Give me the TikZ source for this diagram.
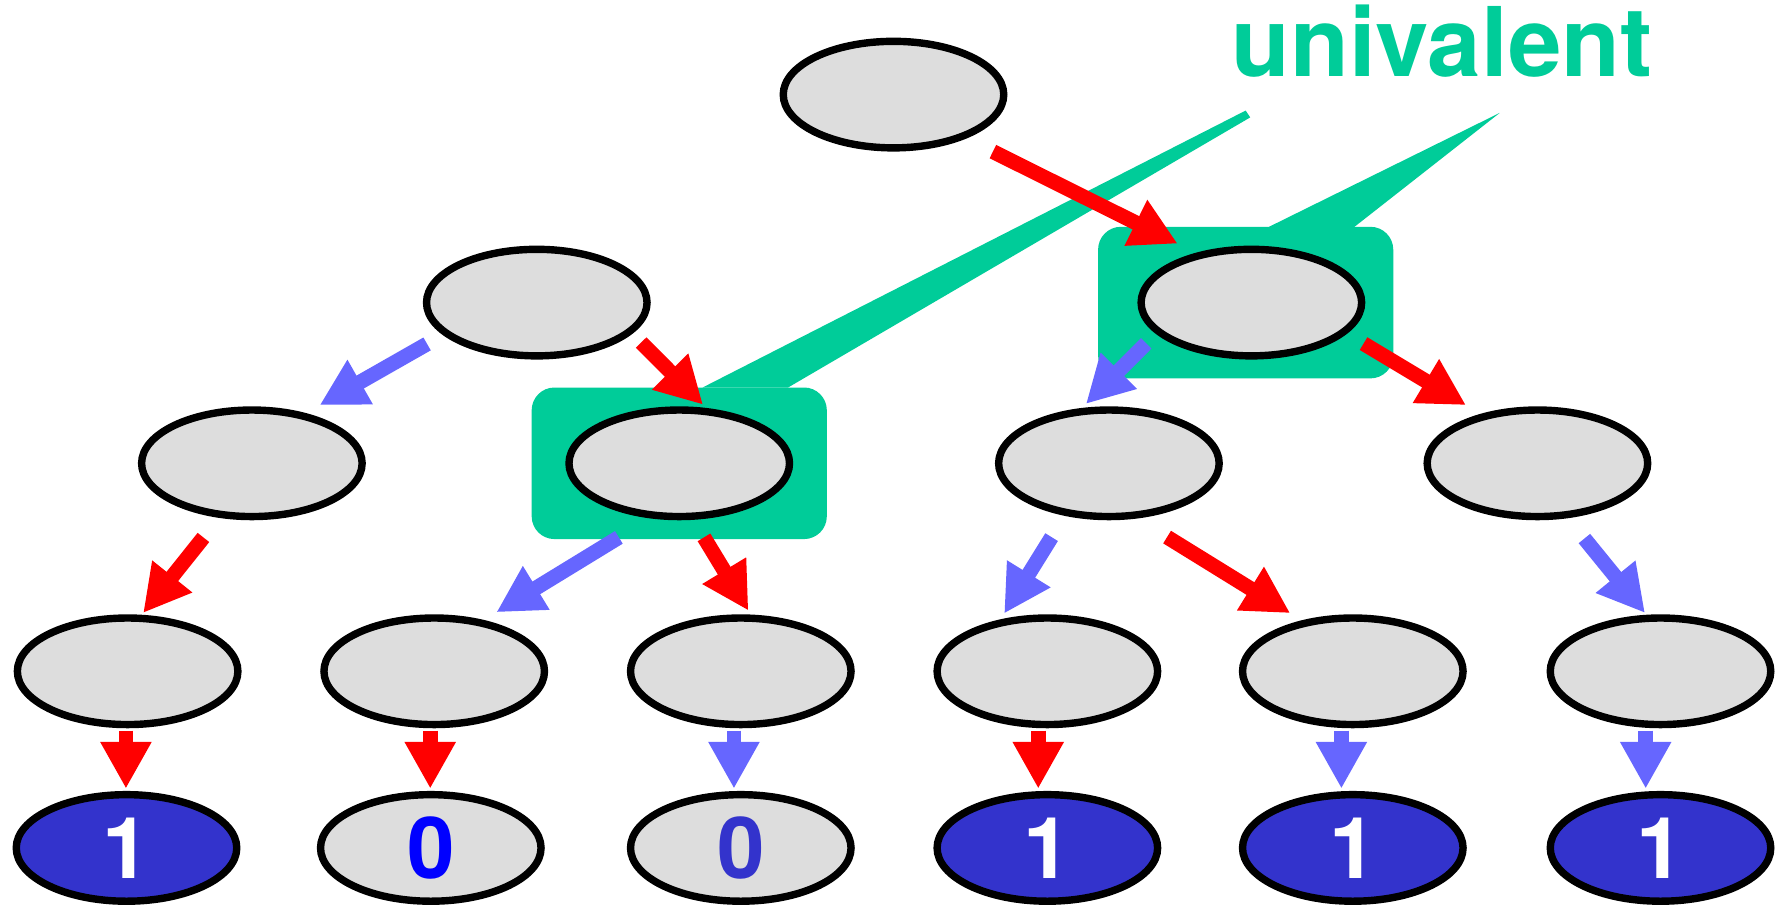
\documentclass[tikz,border=0pt]{standalone}
\usepackage{fontspec}
\setmainfont{TeX Gyre Heros}
\usetikzlibrary{arrows.meta,shapes.geometric,backgrounds}
\definecolor{ink}{HTML}{000000}
\definecolor{cfgfill}{HTML}{DDDDDD}
\definecolor{unigreen}{HTML}{00CC99}
\definecolor{movered}{HTML}{FF0000}
\definecolor{moveblue}{HTML}{6666FF}
\definecolor{onefill}{HTML}{3333CC}
\definecolor{zeroblue}{HTML}{0000FF}

\begin{document}
\begin{tikzpicture}[
  config/.style={ellipse, draw=ink, fill=cfgfill, line width=0.65mm,
    minimum width=19.35mm, minimum height=9.35mm, inner sep=0pt,
    font=\fontsize{21.3pt}{24pt}\selectfont\bfseries},
  decided/.style={config, fill=onefill, text=white},
  valbox/.style={fill=unigreen, rounded corners=2mm, minimum width=25.9mm,
    minimum height=13.3mm, inner sep=0pt, outer sep=0pt},
  redstep/.style={-{Triangle[length=4.1mm,width=4.2mm]}, draw=movered, line width=1.3mm},
  bluestep/.style={-{Triangle[length=4.1mm,width=4.2mm]}, draw=moveblue, line width=1.3mm}
]
\useasboundingbox (0,0) rectangle (156.8mm,-79.6mm);

% configurations
\node[config] (root) at (78.4mm,-8.3mm) {};
\node[config] (a1) at (47.1mm,-26.55mm) {};
\node[config] (a2) at (109.8mm,-26.55mm) {};
\node[config] (b1) at (22.1mm,-40.65mm) {};
\node[config] (b2) at (59.6mm,-40.65mm) {};
\node[config] (b3) at (97.3mm,-40.65mm) {};
\node[config] (b4) at (134.9mm,-40.65mm) {};
\node[config] (c1) at (11.2mm,-58.9mm) {};
\node[config] (c2) at (38.1mm,-58.9mm) {};
\node[config] (c3) at (65.0mm,-58.9mm) {};
\node[config] (c4) at (91.9mm,-58.9mm) {};
\node[config] (c5) at (118.7mm,-58.9mm) {};
\node[config] (c6) at (145.7mm,-58.9mm) {};

% decisions
\node[decided] (d1) at (11.1mm,-74.4mm) {1};
\node[config, text=zeroblue] (d2) at (37.8mm,-74.4mm) {0};
\node[config, text=onefill] (d3) at (65.0mm,-74.4mm) {0};
\node[decided] (d4) at (91.9mm,-74.4mm) {1};
\node[decided] (d5) at (118.7mm,-74.4mm) {1};
\node[decided] (d6) at (145.7mm,-74.4mm) {1};

\node[text=unigreen, font=\fontsize{24pt}{28pt}\selectfont\bfseries, anchor=base west, inner sep=0pt]
  (unilabel) at (108.0mm,-6.75mm) {univalent};

\coordinate (tail1a) at (109.3mm,-9.7mm);
\coordinate (tail1b) at (109.7mm,-10.3mm);
\coordinate (tail2) at (131.6mm,-9.9mm);

\begin{scope}[on background layer]
  \node[valbox] (hold1) at (b2) {};
  \node[valbox] (hold2) at ([xshift=-0.5mm]a2.center) {};
  \fill[unigreen] ([xshift=15mm]hold1.north west) -- (tail1a) -- (tail1b) -- ([xshift=22.5mm]hold1.north west) -- cycle;
  \fill[unigreen] ([xshift=15mm]hold2.north west) -- (tail2) -- ([xshift=22.5mm]hold2.north west) -- cycle;
\end{scope}

\draw[redstep, shorten <=2.6mm, shorten >=1.8mm] (root.329) -- (a2.138);
\draw[bluestep, shorten <=1.6mm, shorten >=1.4mm] (a1.199) -- (b1.43);
\draw[redstep, shorten <=1.1mm, shorten >=0.4mm] (a1.342) -- (b2.64);
\draw[bluestep, shorten <=1.2mm, shorten >=0.5mm] (a2.198) -- (b3.116);
\draw[redstep, shorten <=1.7mm, shorten >=1.5mm] (a2.342) -- (b4.139);
\draw[redstep, shorten <=2.2mm, shorten >=0.2mm] (b1.239) -- (c1.76);
\draw[bluestep, shorten <=3.2mm, shorten >=1.3mm] (b2.242) -- (c2.46);
\draw[redstep, shorten <=1.8mm, shorten >=0.4mm] (b2.284) -- (c3.80);
\draw[bluestep, shorten <=2.2mm, shorten >=0.6mm] (b3.230) -- (c4.132);
\draw[redstep, shorten <=3.1mm, shorten >=1.2mm] (b3.297) -- (c5.135);
\draw[bluestep, shorten <=2.3mm, shorten >=0.2mm] (b4.299) -- (c6.104);

\draw[redstep, shorten <=0.2mm, shorten >=0.2mm] ([xshift=-0.15mm]c1.south) -- ([xshift=-0.15mm]c1.south |- d1.north);
\draw[redstep, shorten <=0.2mm, shorten >=0.2mm] ([xshift=-0.35mm]c2.south) -- ([xshift=-0.35mm]c2.south |- d2.north);
\draw[bluestep, shorten <=0.2mm, shorten >=0.2mm] ([xshift=-0.6mm]c3.south) -- ([xshift=-0.6mm]c3.south |- d3.north);
\draw[redstep, shorten <=0.2mm, shorten >=0.2mm] ([xshift=-0.8mm]c4.south) -- ([xshift=-0.8mm]c4.south |- d4.north);
\draw[bluestep, shorten <=0.2mm, shorten >=0.2mm] ([xshift=-1.0mm]c5.south) -- ([xshift=-1.0mm]c5.south |- d5.north);
\draw[bluestep, shorten <=0.2mm, shorten >=0.2mm] ([xshift=-1.3mm]c6.south) -- ([xshift=-1.3mm]c6.south |- d6.north);
\end{tikzpicture}
\end{document}
